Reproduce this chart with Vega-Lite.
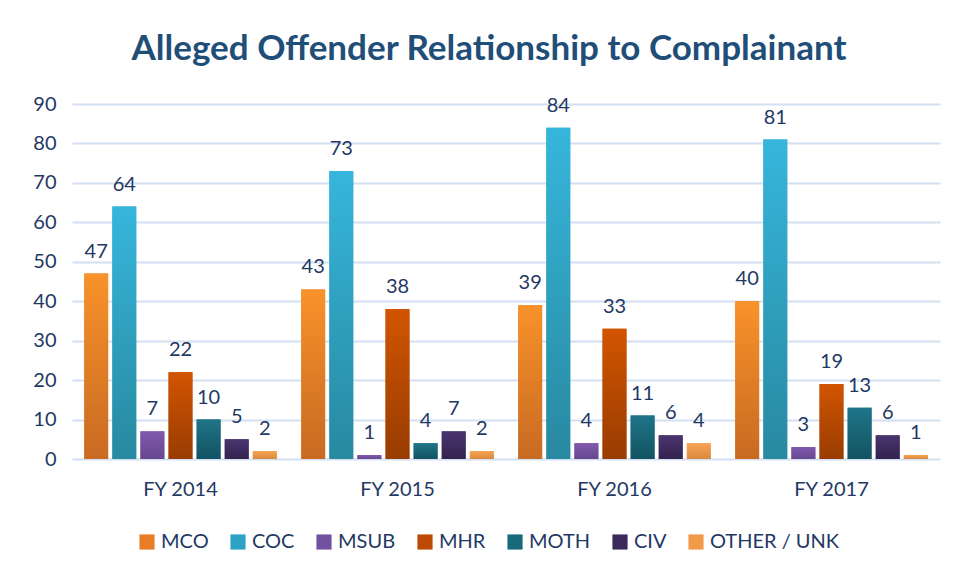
{
  "$schema": "https://vega.github.io/schema/vega-lite/v6.json",
  "autosize": {"type": "none"},
  "padding": {"left": 72, "top": 104, "right": 19, "bottom": 122},
  "width": 868,
  "height": 355,
  "background": "white",
  "title": {
    "text": "Alleged Offender Relationship to Complainant",
    "fontSize": 35,
    "fontWeight": "bold",
    "font": "Lato",
    "color": "#1f4e79",
    "anchor": "middle",
    "dx": -17,
    "offset": 27
  },
  "data": {
    "values": [
      {"year": "FY 2014", "series": "MCO", "value": 47},
      {"year": "FY 2014", "series": "COC", "value": 64},
      {"year": "FY 2014", "series": "MSUB", "value": 7},
      {"year": "FY 2014", "series": "MHR", "value": 22},
      {"year": "FY 2014", "series": "MOTH", "value": 10},
      {"year": "FY 2014", "series": "CIV", "value": 5},
      {"year": "FY 2014", "series": "OTHER / UNK", "value": 2},
      {"year": "FY 2015", "series": "MCO", "value": 43},
      {"year": "FY 2015", "series": "COC", "value": 73},
      {"year": "FY 2015", "series": "MSUB", "value": 1},
      {"year": "FY 2015", "series": "MHR", "value": 38},
      {"year": "FY 2015", "series": "MOTH", "value": 4},
      {"year": "FY 2015", "series": "CIV", "value": 7},
      {"year": "FY 2015", "series": "OTHER / UNK", "value": 2},
      {"year": "FY 2016", "series": "MCO", "value": 39},
      {"year": "FY 2016", "series": "COC", "value": 84},
      {"year": "FY 2016", "series": "MSUB", "value": 4},
      {"year": "FY 2016", "series": "MHR", "value": 33},
      {"year": "FY 2016", "series": "MOTH", "value": 11},
      {"year": "FY 2016", "series": "CIV", "value": 6},
      {"year": "FY 2016", "series": "OTHER / UNK", "value": 4},
      {"year": "FY 2017", "series": "MCO", "value": 40},
      {"year": "FY 2017", "series": "COC", "value": 81},
      {"year": "FY 2017", "series": "MSUB", "value": 3},
      {"year": "FY 2017", "series": "MHR", "value": 19},
      {"year": "FY 2017", "series": "MOTH", "value": 13},
      {"year": "FY 2017", "series": "CIV", "value": 6},
      {"year": "FY 2017", "series": "OTHER / UNK", "value": 1}
    ]
  },
  "encoding": {
    "x": {
      "field": "year", "type": "nominal", "title": null,
      "scale": {"paddingInner": 0.1, "paddingOuter": 0.05},
      "axis": {"labelAngle": 0, "domain": false, "ticks": false, "labelFontSize": 20, "labelColor": "#1f3864", "labelFont": "Lato", "labelPadding": 20}
    },
    "xOffset": {
      "field": "series", "type": "nominal",
      "sort": ["MCO", "COC", "MSUB", "MHR", "MOTH", "CIV", "OTHER / UNK"],
      "scale": {"paddingInner": 0.15, "paddingOuter": 0.05}
    },
    "y": {
      "field": "value", "type": "quantitative", "title": null,
      "scale": {"domain": [0, 90], "nice": false},
      "axis": {"values": [0,10,20,30,40,50,60,70,80,90], "labelOverlap": false, "domain": false, "ticks": false, "labelFontSize": 20, "labelColor": "#1f3864", "labelFont": "Lato", "labelPadding": 16, "gridColor": "#d3dff2", "gridWidth": 2}
    }
  },
  "layer": [
    {
      "mark": {"type": "bar"},
      "encoding": {
        "color": {
          "field": "series", "type": "nominal",
          "sort": ["MCO", "COC", "MSUB", "MHR", "MOTH", "CIV", "OTHER / UNK"],
          "scale": {
            "domain": ["MCO", "COC", "MSUB", "MHR", "MOTH", "CIV", "OTHER / UNK"],
            "range": ["#e97d26", "#2fa3c6", "#7052a0", "#bc4a04", "#176a7a", "#3b2a5a", "#f09a4a"]
          },
          "legend": {
            "title": null, "orient": "none", "direction": "horizontal", "legendX": 65, "legendY": 428,
            "symbolType": "square", "symbolSize": 230, "symbolStrokeWidth": 0,
            "labelFontSize": 20, "labelColor": "#1f3864", "labelFont": "Lato",
            "columnPadding": 19, "labelOffset": 4
          }
        }
      }
    },
    {
      "mark": {"type": "bar"},
      "encoding": {
        "fill": {
          "condition": [
            {"test": "datum.series === 'MCO'", "value": {"gradient": "linear", "x1": 0, "y1": 0, "x2": 0, "y2": 1, "stops": [{"offset": 0, "color": "#f8922a"}, {"offset": 1, "color": "#c86a22"}]}},
            {"test": "datum.series === 'COC'", "value": {"gradient": "linear", "x1": 0, "y1": 0, "x2": 0, "y2": 1, "stops": [{"offset": 0, "color": "#36b6dc"}, {"offset": 1, "color": "#2889a0"}]}},
            {"test": "datum.series === 'MSUB'", "value": {"gradient": "linear", "x1": 0, "y1": 0, "x2": 0, "y2": 1, "stops": [{"offset": 0, "color": "#8158ad"}, {"offset": 1, "color": "#66488e"}]}},
            {"test": "datum.series === 'MHR'", "value": {"gradient": "linear", "x1": 0, "y1": 0, "x2": 0, "y2": 1, "stops": [{"offset": 0, "color": "#d25500"}, {"offset": 1, "color": "#983c02"}]}},
            {"test": "datum.series === 'MOTH'", "value": {"gradient": "linear", "x1": 0, "y1": 0, "x2": 0, "y2": 1, "stops": [{"offset": 0, "color": "#1f7588"}, {"offset": 1, "color": "#125362"}]}},
            {"test": "datum.series === 'CIV'", "value": {"gradient": "linear", "x1": 0, "y1": 0, "x2": 0, "y2": 1, "stops": [{"offset": 0, "color": "#4b346f"}, {"offset": 1, "color": "#33234e"}]}}
          ],
          "value": {"gradient": "linear", "x1": 0, "y1": 0, "x2": 0, "y2": 1, "stops": [{"offset": 0, "color": "#f9a352"}, {"offset": 1, "color": "#d98a40"}]}
        }
      }
    },
    {
      "mark": {"type": "text", "dy": -22, "fontSize": 20, "font": "Lato", "color": "#1f3864"},
      "encoding": {"text": {"field": "value", "type": "quantitative"}}
    }
  ],
  "config": {"view": {"stroke": null}}
}
